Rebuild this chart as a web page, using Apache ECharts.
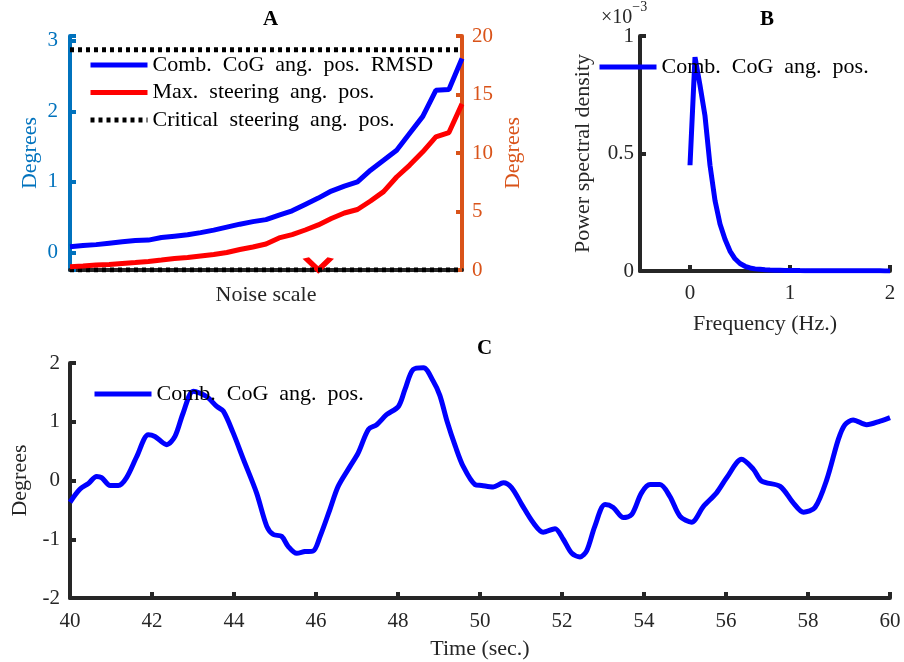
<!DOCTYPE html>
<html style="height: 100%">
<head>
    <meta charset="utf-8">
    <title>Noise scale / PSD / time series</title>
    <script src="https://cdn.jsdelivr.net/npm/echarts@6/dist/echarts.min.js"></script>
</head>
<body style="height: 100%; margin: 0; background: #fff">
<div id="main" style="width: 904px; height: 662px"></div>
<script type="text/javascript">
    // ---- panel A : noise scale sweep ----
    var noiseScale = [0,1,2,3,4,5,6,7,8,9,10,11,12,13,14,15,16,17,18,19,20,21,22,23,24,25,26,27,28,29,30];
    var rmsdCoG = [0.08,0.096,0.11,0.13,0.15,0.167,0.174,0.21,0.23,0.25,0.28,0.316,0.358,0.40,0.436,0.465,
        0.53,0.59,0.68,0.77,0.87,0.94,1.0,1.166,1.307,1.45,1.69,1.93,2.30,2.31,2.75];
    var maxSteer = [0.28,0.34,0.43,0.47,0.56,0.64,0.73,0.85,0.98,1.07,1.2,1.32,1.5,1.75,1.97,2.22,
        2.74,3.03,3.42,3.85,4.4,4.87,5.17,5.9,6.7,7.95,8.97,10.1,11.37,11.75,14.2];
    var criticalTop = 2.875;     // left axis
    var criticalBottom = 0;      // right axis
    var crossPoint = [19, 0];    // red X, right axis

    // ---- panel B : power spectral density ----
    var freq = [0,0.05,0.1,0.15,0.2,0.25,0.3,0.35,0.4,0.45,0.5,0.55,0.6,0.65,0.7,0.75,0.8,0.85,0.9,0.95,1,
        1.05,1.1,1.15,1.2,1.25,1.3,1.35,1.4,1.45,1.5,1.55,1.6,1.65,1.7,1.75,1.8,1.85,1.9,1.95,2];
    var psd = [0.45e-3,0.91e-3,0.79e-3,0.66e-3,0.45e-3,0.30e-3,0.20e-3,0.135e-3,0.085e-3,0.052e-3,0.032e-3,
        0.02e-3,0.013e-3,0.009e-3,0.007e-3,0.005e-3,0.004e-3,0.0035e-3,0.003e-3,0.0025e-3,0.002e-3,
        0.0018e-3,0.0016e-3,0.0015e-3,0.0014e-3,0.0013e-3,0.0012e-3,0.0011e-3,0.001e-3,0.001e-3,0.0009e-3,
        0.0009e-3,0.0008e-3,0.0008e-3,0.0007e-3,0.0007e-3,0.0006e-3,0.0006e-3,0.0006e-3,0.0005e-3,0.0005e-3];

    // ---- panel C : time series ----
    var timeSec = [40,40.24,40.45,40.65,40.77,40.98,41.18,41.38,41.63,41.91,42.07,42.36,42.56,42.76,43.01,43.33,
        43.58,43.74,43.98,44.23,44.55,44.8,44.96,45.16,45.32,45.53,45.73,45.93,46.1,46.34,46.54,46.83,
        47.03,47.28,47.48,47.72,48.01,48.17,48.37,48.62,48.86,49.02,49.2,49.4,49.59,49.88,50.04,50.32,
        50.57,50.77,51.02,51.3,51.54,51.83,52.03,52.24,52.44,52.6,52.8,53.05,53.25,53.5,53.7,53.94,
        54.15,54.39,54.63,54.88,55.16,55.45,55.77,56.02,56.38,56.67,56.87,57.32,57.64,57.89,58.17,
        58.46,58.74,58.9,59.1,59.43,59.76,60];
    var cogAngle = [-0.37,-0.15,-0.05,0.07,0.05,-0.085,-0.085,0.05,0.41,0.78,0.75,0.61,0.75,1.15,1.52,1.43,
        1.26,1.18,0.81,0.36,-0.21,-0.78,-0.92,-0.95,-1.12,-1.24,-1.21,-1.2,-0.95,-0.49,-0.1,0.24,
        0.47,0.87,0.95,1.12,1.26,1.55,1.89,1.92,1.69,1.45,1.0,0.58,0.24,-0.07,-0.085,-0.11,
        -0.04,-0.12,-0.41,-0.72,-0.88,-0.82,-1.0,-1.24,-1.30,-1.2,-0.78,-0.41,-0.46,-0.63,-0.58,-0.21,
        -0.07,-0.07,-0.27,-0.61,-0.71,-0.44,-0.21,0.05,0.36,0.19,-0.01,-0.1,-0.38,-0.54,-0.46,
        0.02,0.70,0.95,1.03,0.95,1.01,1.07];

    var nameA = 'Comb.  CoG  ang.  pos.  RMSD';
    var nameSteer = 'Max.  steering  ang.  pos.';
    var nameCrit = 'Critical  steering  ang.  pos.';
    var nameCoG = 'Comb.  CoG  ang.  pos.';

    function pairs(xs, ys) {
        var out = [];
        for (var i = 0; i < xs.length; i++) out.push([xs[i], ys[i]]);
        return out;
    }

    var FONT = 'Liberation Serif';
    var DARK = '#262626';
    var BLUE_AX = '#0072BD';
    var ORANGE_AX = '#D95319';
    var LW = 5;

    function axisStyle(color) {
        return {
            axisLine: {show: true, onZero: false, lineStyle: {color: color, width: 4}},
            axisTick: {show: true, inside: true, length: 6, lineStyle: {color: color, width: 4}},
            splitLine: {show: false},
            axisLabel: {color: color, fontFamily: FONT, fontSize: 21},
            nameTextStyle: {color: color, fontFamily: FONT, fontSize: 22}
        };
    }
    function merge(a, b) {
        for (var k in b) a[k] = b[k];
        return a;
    }
    function intOnly(v) {
        return Math.abs(v - Math.round(v)) < 1e-6 ? String(Math.round(v)) : '';
    }
    function legendBase() {
        return {
            itemWidth: 57, itemHeight: 14, selectedMode: false,
            itemStyle: {opacity: 0},
            lineStyle: {width: LW},
            textStyle: {fontFamily: FONT, fontSize: 22, color: '#000'}
        };
    }

    var myChart = echarts.init(document.getElementById('main'));

    var option = {
        animation: false,
        title: [
            {text: 'A', left: 258, top: 4, textStyle: {fontFamily: FONT, fontSize: 21, fontWeight: 'bold', color: '#000'}},
            {text: 'B', left: 755, top: 4, textStyle: {fontFamily: FONT, fontSize: 21, fontWeight: 'bold', color: '#000'}},
            {text: 'C', left: 472, top: 333, textStyle: {fontFamily: FONT, fontSize: 21, fontWeight: 'bold', color: '#000'}}
        ],
        graphic: [{
            type: 'text', left: 601, top: 0,
            style: {
                text: '{a|×10}{s|−3}',
                rich: {
                    a: {fontFamily: FONT, fontSize: 20, fill: DARK, padding: [8, 0, 0, 0]},
                    s: {fontFamily: FONT, fontSize: 14, fill: DARK, verticalAlign: 'top'}
                }
            }
        }],
        legend: [
            merge(legendBase(), {data: [nameA, nameSteer, nameCrit], orient: 'vertical', left: 83, top: 49, itemGap: 5.5}),
            merge(legendBase(), {data: [nameCoG], left: 592, top: 51}),
            merge(legendBase(), {data: [nameCoG], left: 87, top: 378})
        ],
        grid: [
            {left: 70, top: 36, width: 392, height: 234},
            {left: 640, top: 36, width: 250, height: 235},
            {left: 70, top: 363, width: 820, height: 235}
        ],
        xAxis: [
            merge(axisStyle(DARK), {
                gridIndex: 0, type: 'value', min: 0, max: 30,
                name: 'Noise scale', nameLocation: 'middle', nameGap: 14,
                axisLabel: {show: false}, axisTick: {show: false}
            }),
            merge(axisStyle(DARK), {
                gridIndex: 1, type: 'value', min: -0.5, max: 2, splitNumber: 2,
                name: 'Frequency (Hz.)', nameLocation: 'middle', nameGap: 42,
                axisLabel: {color: DARK, fontFamily: FONT, fontSize: 21, margin: 12, formatter: intOnly}
            }),
            merge(axisStyle(DARK), {
                gridIndex: 2, type: 'value', min: 40, max: 60, interval: 2,
                name: 'Time (sec.)', nameLocation: 'middle', nameGap: 40,
                axisLabel: {color: DARK, fontFamily: FONT, fontSize: 21, margin: 13}
            })
        ],
        yAxis: [
            merge(axisStyle(BLUE_AX), {
                gridIndex: 0, type: 'value', position: 'left', min: -0.25, max: 3.07, splitNumber: 3,
                name: 'Degrees', nameLocation: 'middle', nameGap: 29,
                axisLabel: {color: BLUE_AX, fontFamily: FONT, fontSize: 21, margin: 12, formatter: intOnly}
            }),
            merge(axisStyle(ORANGE_AX), {
                gridIndex: 0, type: 'value', position: 'right', min: 0, max: 20, interval: 5,
                name: 'Degrees', nameLocation: 'middle', nameGap: 40,
                axisLabel: {color: ORANGE_AX, fontFamily: FONT, fontSize: 21, margin: 10}
            }),
            merge(axisStyle(DARK), {
                gridIndex: 1, type: 'value', min: 0, max: 1e-3, interval: 0.5e-3,
                name: 'Power spectral density', nameLocation: 'middle', nameGap: 46,
                axisLabel: {color: DARK, fontFamily: FONT, fontSize: 21, margin: 6,
                    formatter: function (v) { return String(Math.round(v * 1e4) / 10); }}
            }),
            merge(axisStyle(DARK), {
                gridIndex: 2, type: 'value', min: -2, max: 2, interval: 1,
                name: 'Degrees', nameLocation: 'middle', nameGap: 36,
                axisLabel: {color: DARK, fontFamily: FONT, fontSize: 21, margin: 10}
            })
        ],
        series: [
            {
                name: nameCrit, type: 'line', xAxisIndex: 0, yAxisIndex: 0, symbol: 'none',
                data: [[noiseScale[0], criticalTop], [noiseScale[noiseScale.length - 1], criticalTop]],
                lineStyle: {color: '#000', width: LW, type: [4, 4]}, itemStyle: {color: '#000'}
            },
            {
                name: nameCrit, type: 'line', xAxisIndex: 0, yAxisIndex: 1, symbol: 'none',
                data: [[noiseScale[0], criticalBottom], [noiseScale[noiseScale.length - 1], criticalBottom]],
                lineStyle: {color: '#000', width: LW, type: [4, 4]}, itemStyle: {color: '#000'}
            },
            {
                name: nameA, type: 'line', xAxisIndex: 0, yAxisIndex: 0, symbol: 'none',
                data: pairs(noiseScale, rmsdCoG),
                lineStyle: {color: '#0000FF', width: LW}, itemStyle: {color: '#0000FF'}
            },
            {
                name: nameSteer, type: 'line', xAxisIndex: 0, yAxisIndex: 1, symbol: 'none',
                data: pairs(noiseScale, maxSteer),
                lineStyle: {color: '#FF0000', width: LW}, itemStyle: {color: '#FF0000'}
            },
            {
                // red X marker; only its upper half shows above the axis
                name: 'cross', type: 'scatter', xAxisIndex: 0, yAxisIndex: 1,
                symbol: 'path://M0,0L10,10L20,0', symbolSize: [25, 12], symbolOffset: [0, -6],
                data: [crossPoint],
                itemStyle: {color: 'rgba(0,0,0,0)', borderColor: '#FF0000', borderWidth: 5, opacity: 1}
            },
            {
                name: nameCoG, type: 'line', xAxisIndex: 1, yAxisIndex: 2, symbol: 'none',
                data: pairs(freq, psd),
                lineStyle: {color: '#0000FF', width: LW}, itemStyle: {color: '#0000FF'}
            },
            {
                name: nameCoG, type: 'line', xAxisIndex: 2, yAxisIndex: 3, symbol: 'none', smooth: 0.3,
                data: pairs(timeSec, cogAngle),
                lineStyle: {color: '#0000FF', width: LW}, itemStyle: {color: '#0000FF'}
            }
        ]
    };

    myChart.setOption(option);
</script>
</body>
</html>
